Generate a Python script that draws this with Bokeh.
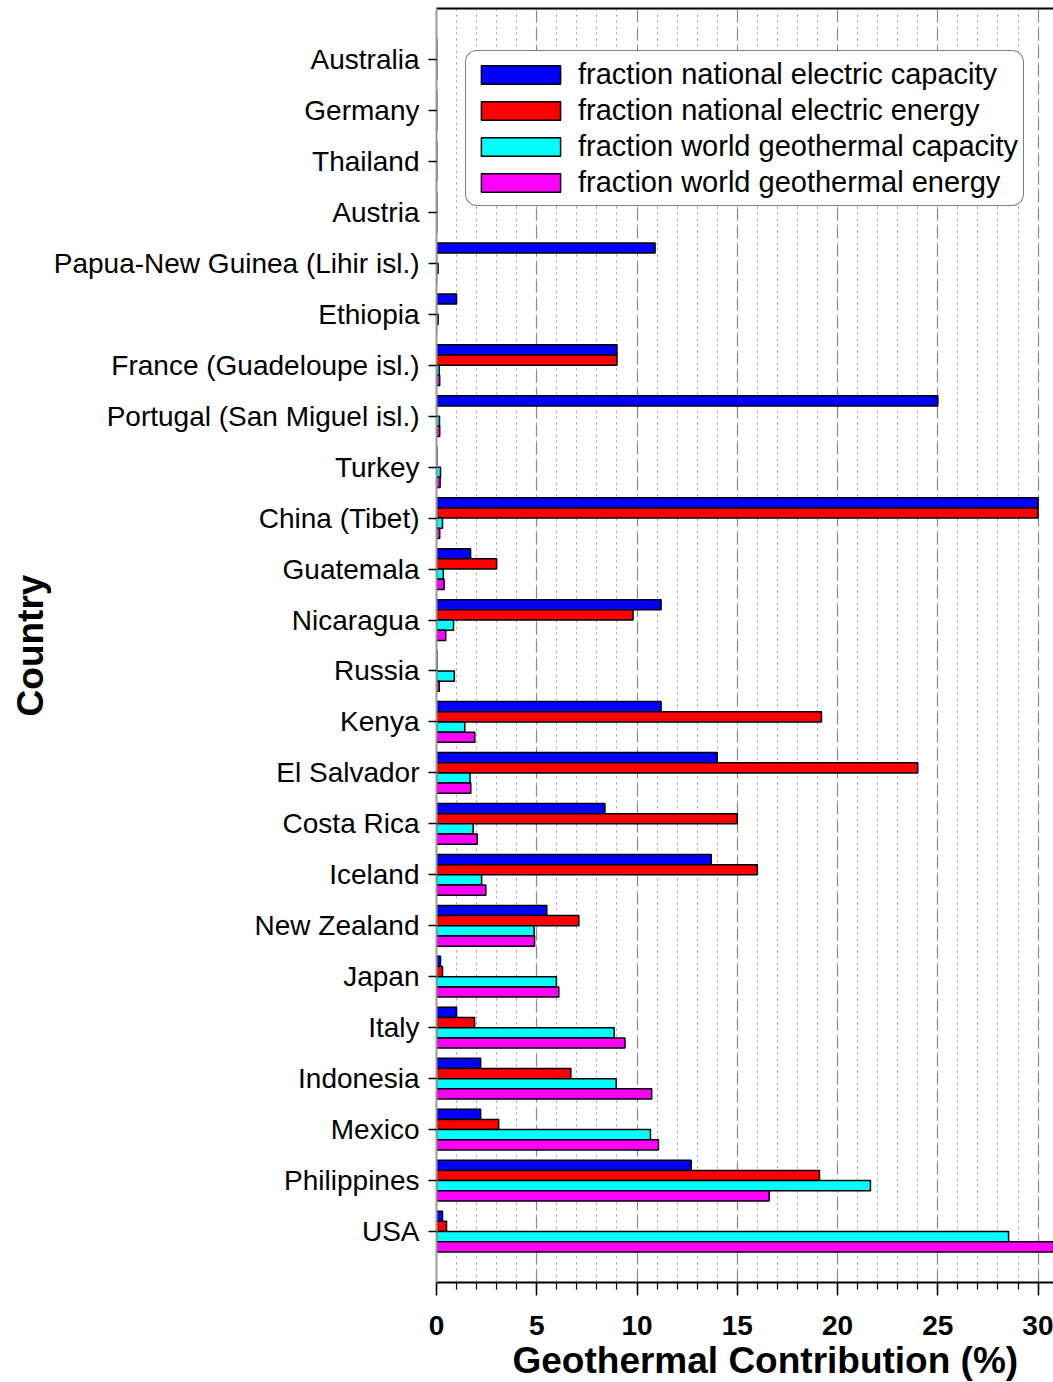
from bokeh.plotting import figure
from bokeh.models import (Range1d, FixedTicker, LinearAxis, Legend, LegendItem,
                          ColumnDataSource, SingleIntervalTicker, Title)
from bokeh.transform import dodge
from bokeh.embed import file_html
from bokeh.resources import INLINE

# ---------------- data (top to bottom as in the chart) ----------------
countries = ["Australia", "Germany", "Thailand", "Austria",
             "Papua-New Guinea (Lihir isl.)", "Ethiopia",
             "France (Guadeloupe isl.)", "Portugal (San Miguel isl.)",
             "Turkey", "China (Tibet)", "Guatemala", "Nicaragua", "Russia",
             "Kenya", "El Salvador", "Costa Rica", "Iceland", "New Zealand",
             "Japan", "Italy", "Indonesia", "Mexico", "Philippines", "USA"]

national_capacity = [0.01, 0.01, 0.01, 0.01, 10.9, 1.0, 9.0, 25.0, 0.02, 30.0,
                     1.7, 11.2, 0.02, 11.2, 14.0, 8.4, 13.7, 5.5, 0.2, 1.0,
                     2.2, 2.2, 12.7, 0.3]
national_energy = [0.01, 0.01, 0.01, 0.01, 0.0, 0.0, 9.0, 0.0, 0.02, 30.0,
                   3.0, 9.8, 0.02, 19.2, 24.0, 15.0, 16.0, 7.1, 0.3, 1.9,
                   6.7, 3.1, 19.1, 0.5]
world_capacity = [0.01, 0.01, 0.01, 0.01, 0.08, 0.08, 0.14, 0.15, 0.2, 0.3,
                  0.34, 0.85, 0.89, 1.41, 1.67, 1.83, 2.25, 4.87, 5.98, 8.86,
                  8.96, 10.67, 21.64, 28.53]
world_energy = [0.01, 0.01, 0.01, 0.01, 0.0, 0.0, 0.16, 0.16, 0.18, 0.16,
                0.38, 0.46, 0.14, 1.91, 1.71, 2.03, 2.46, 4.89, 6.1, 9.4,
                10.73, 11.07, 16.59, 32.0]

series_labels = ["fraction national electric capacity",
                 "fraction national electric energy",
                 "fraction world geothermal capacity",
                 "fraction world geothermal energy"]
series_colors = ["#0000FF", "#FF0000", "#00FFFF", "#FF00FF"]

# ---------------- figure ----------------
FONT = "Liberation Sans"
n = len(countries)
ypos = [n - 1 - i for i in range(n)]

source = ColumnDataSource(dict(
    y=ypos, country=countries,
    s0=national_capacity, s1=national_energy,
    s2=world_capacity, s3=world_energy,
))

p = figure(width=1053, height=1382,
           x_range=Range1d(0, 30.77), y_range=Range1d(-1, n),
           output_backend="svg", toolbar_location=None,
           min_border_left=436, min_border_right=0,
           min_border_top=8, min_border_bottom=100)
p.outline_line_color = None
p.background_fill_color = "white"
p.border_fill_color = "white"

offsets = [0.3, 0.1, -0.1, -0.3]
renderers = []
for k, col in enumerate(["s0", "s1", "s2", "s3"]):
    r = p.hbar(y=dodge("y", offsets[k], range=p.y_range), left=0, right=col,
               height=0.2, source=source,
               fill_color=series_colors[k], line_color="black",
               line_width=1.5)
    renderers.append(r)

# x axis
xa = p.xaxis[0]
xa.ticker = SingleIntervalTicker(interval=5, num_minor_ticks=5)
xa.axis_line_color = "black"
xa.axis_line_width = 2
xa.major_tick_in = 0
xa.major_tick_out = 13
xa.minor_tick_in = 0
xa.minor_tick_out = 7
xa.major_tick_line_width = 1.5
xa.minor_tick_line_width = 1.2
xa.major_tick_line_color = "black"
xa.minor_tick_line_color = "black"
xa.major_label_text_font = FONT
xa.major_label_text_font_style = "bold"
xa.major_label_text_font_size = "28px"
xa.major_label_text_color = "black"
xa.major_label_standoff = 20

xtitle = Title(text="Geothermal Contribution  (%)", align="left", offset=76,
               text_font=FONT, text_font_style="bold", text_font_size="37px",
               text_color="black", standoff=0)
p.add_layout(xtitle, "below")

# y axis
ya = p.yaxis[0]
ya.ticker = FixedTicker(ticks=ypos)
ya.major_label_overrides = {y: c for y, c in zip(ypos, countries)}
ya.axis_line_color = "#999999"
ya.axis_line_width = 2
ya.major_tick_in = 0
ya.major_tick_out = 8
ya.major_tick_line_width = 1.5
ya.major_tick_line_color = "black"
ya.minor_tick_line_color = None
ya.major_label_text_font = FONT
ya.major_label_text_font_size = "28px"
ya.major_label_text_color = "black"
ya.major_label_standoff = 9
ya.axis_label = "Country"
ya.axis_label_text_font = FONT
ya.axis_label_text_font_style = "bold"
ya.axis_label_text_font_size = "37px"
ya.axis_label_text_color = "black"
ya.axis_label_standoff = 0

# top frame line
top = LinearAxis(ticker=FixedTicker(ticks=[]), major_label_text_font_size="0px",
                 major_tick_out=0, major_tick_in=0, minor_tick_out=0,
                 minor_tick_in=0, major_label_standoff=0,
                 axis_line_color="black", axis_line_width=2)
p.add_layout(top, "above")

# grids
p.ygrid.grid_line_color = None
p.xgrid.ticker = SingleIntervalTicker(interval=5, num_minor_ticks=5)
p.xgrid.grid_line_color = "#8a8a8a"
p.xgrid.grid_line_width = 1.2
p.xgrid.grid_line_dash = "12 6"
p.xgrid.minor_grid_line_color = "#9a9a9a"
p.xgrid.minor_grid_line_width = 1
p.xgrid.minor_grid_line_dash = "2 4"

# legend
legend = Legend(
    items=[LegendItem(label=series_labels[k], renderers=[renderers[k]])
           for k in range(4)],
    location=(29, 1076),
    glyph_width=99, glyph_height=23, label_standoff=8,
    padding=5, spacing=0, label_height=36, margin=0,
    label_text_font=FONT, label_text_font_size="29px",
    label_text_color="black",
    border_line_color="black", border_line_width=1.5, border_radius=12,
    background_fill_color="white", background_fill_alpha=1.0,
)
p.add_layout(legend)

open("out.html", "w").write(file_html(p, INLINE))
